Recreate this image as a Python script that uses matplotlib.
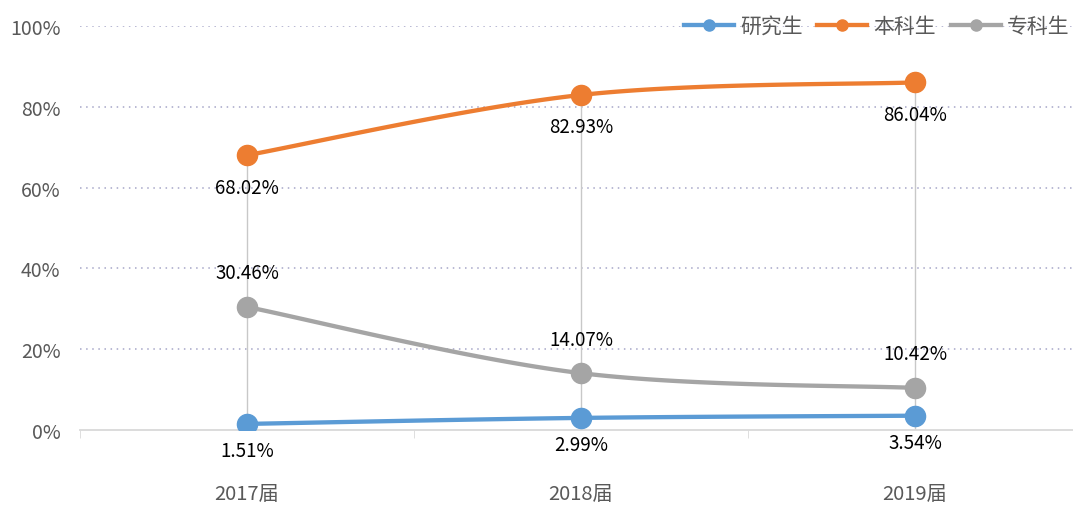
import matplotlib.pyplot as plt
import numpy as np
from matplotlib.ticker import FuncFormatter

plt.rcParams['font.family'] = ['Noto Sans CJK SC', 'DejaVu Sans']

years = ['2017届', '2018届', '2019届']
grad = [1.51, 2.99, 3.54]        # 研究生
bachelor = [68.02, 82.93, 86.04]  # 本科生
college = [30.46, 14.07, 10.42]   # 专科生

# name, values, colour, label offset (px, + = above)
series = [('研究生', grad, '#5B9BD5', -27),
          ('本科生', bachelor, '#ED7D31', -32),
          ('专科生', college, '#A5A5A5', 34)]


def smooth(xs, ys, n=40):
    # excel-like smoothed line: bezier with neighbour tangents
    xs = np.asarray(xs, float)
    ys = np.asarray(ys, float)
    px = np.concatenate([[xs[0]], xs, [xs[-1]]])
    py = np.concatenate([[ys[0]], ys, [ys[-1]]])
    ox, oy = [], []
    t = np.linspace(0, 1, n)
    for i in range(len(xs) - 1):
        p0 = np.array([px[i + 1], py[i + 1]])
        p3 = np.array([px[i + 2], py[i + 2]])
        c1 = p0 + (p3 - np.array([px[i], py[i]])) / 6
        c2 = p3 - (np.array([px[i + 3], py[i + 3]]) - p0) / 6
        b = ((1 - t) ** 3)[:, None] * p0 + (3 * (1 - t) ** 2 * t)[:, None] * c1 \
            + (3 * (1 - t) * t ** 2)[:, None] * c2 + (t ** 3)[:, None] * p3
        ox.extend(b[:, 0])
        oy.extend(b[:, 1])
    return ox, oy


fig = plt.figure(figsize=(10.73, 5.06), dpi=100)
ax = fig.add_axes([80 / 1073, 75 / 506, 1002 / 1073, 404 / 506])
x = np.arange(len(years))

for v in [20, 40, 60, 80, 100]:
    ax.axhline(v, color='#A6A6C8', lw=1.1, ls=(0, (1, 3)), zorder=0)

# drop lines
for i in x:
    ax.plot([i, i], [0, bachelor[i]], color='#C8C8C8', lw=1, zorder=1)

handles = []
for name, vals, col, off in series:
    sx, sy = smooth(x, vals)
    ax.plot(sx, sy, color=col, lw=3.1, zorder=3, solid_capstyle='round')
    ax.plot(x, vals, 'o', color=col, ms=14.5, zorder=4)
    h, = ax.plot([], [], color=col, lw=3.1, marker='o', ms=8, label=name)
    handles.append(h)
    for i, v in enumerate(vals):
        ax.annotate(f'{v:.2f}%', (i, v), xytext=(0, off * 0.72), textcoords='offset points',
                    ha='center', va='center', fontsize=13.5, color='#000000', zorder=5)

ax.set_xlim(-0.5, 2.5)
ax.set_ylim(0, 100)
ax.set_yticks([0, 20, 40, 60, 80, 100])
ax.yaxis.set_major_formatter(FuncFormatter(lambda v, p: f'{int(v)}%'))
ax.set_xticks(x)
ax.set_xticklabels(years)
ax.set_xticks([-0.5, 0.5, 1.5, 2.5], minor=True)
ax.tick_params(axis='x', which='major', length=0, pad=38, labelsize=14.5, labelcolor='#595959')
ax.tick_params(axis='x', which='minor', length=6, color='#D9D9D9', direction='out')
ax.tick_params(axis='y', length=0, pad=14, labelsize=14, labelcolor='#595959')
for s in ['top', 'right', 'left']:
    ax.spines[s].set_visible(False)
ax.spines['bottom'].set_color('#D9D9D9')
ax.spines['bottom'].set_linewidth(1.3)
ax.set_facecolor('none')

fig.legend(handles=handles, loc='center left', bbox_to_anchor=(684 / 1073, 1 - 27 / 506),
           ncol=3, frameon=False, fontsize=15, labelcolor='#595959', borderpad=0,
           borderaxespad=0, handlelength=2.4, columnspacing=0.7, handletextpad=0.3)

fig.savefig('out.png', dpi=100)
